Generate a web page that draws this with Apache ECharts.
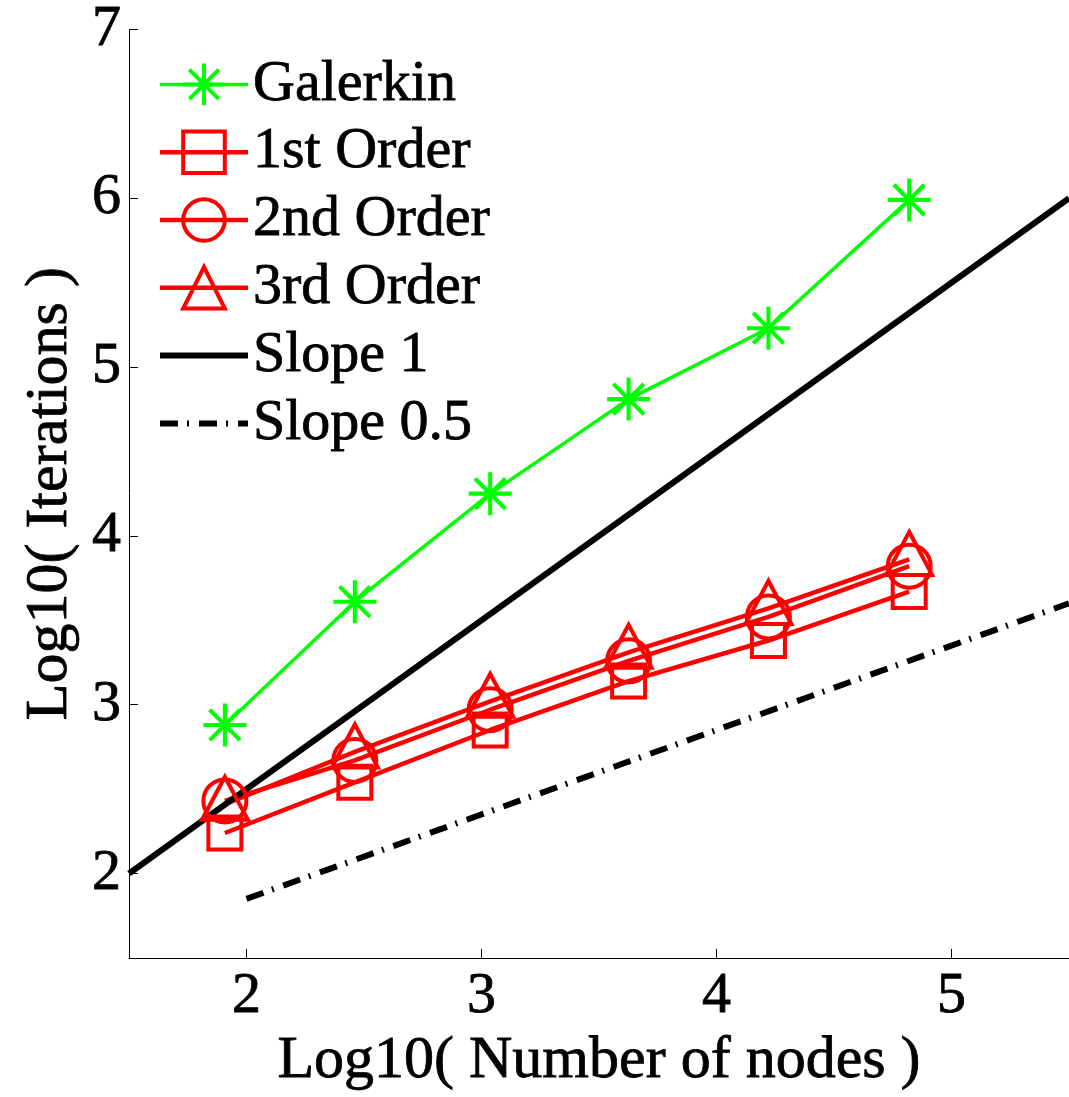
<!DOCTYPE html>
<html>
<head>
<meta charset="utf-8">
<script src="https://cdn.jsdelivr.net/npm/echarts@6/dist/echarts.min.js"></script>
<style>
  html, body { margin: 0; padding: 0; background: #fff; }
  #chart { width: 1069px; height: 1097px; }
</style>
</head>
<body>
<div id="chart"></div>
<script>
// log10 of node counts
const xNodes = [1.908, 2.461, 3.037, 3.626, 4.221, 4.820];
const galerkin = [2.88, 3.61, 4.25, 4.81, 5.23, 5.99];
const order1 = [2.24, 2.54, 2.85, 3.14, 3.38, 3.67];
const order2 = [2.43, 2.67, 2.97, 3.26, 3.52, 3.82];
const order3 = [2.41, 2.72, 3.02, 3.31, 3.57, 3.86];
// reference slope lines
const slope1X = [1.5, 5.5];
const slope1Y = [2, 6];
const slopeHalfX = [2, 5.5];
const slopeHalfY = [1.85, 3.6];
const xTicks = [2, 3, 4, 5];
const yTicks = [2, 3, 4, 5, 6, 7];

const font = 'Liberation Serif';
// slightly heavier text, like the matlab export
const txt = (size) => ({ fontFamily: font, fontSize: size, color: '#000', textBorderColor: '#000', textBorderWidth: 0.8 });

// asterisk marker (4 bars), built as one path with same winding for every bar
function starPath() {
  let t = 0.095, s = '';
  [0, 45, 90, 135].forEach(a => {
    let r = a * Math.PI / 180;
    let dx = Math.cos(r), dy = Math.sin(r);
    let nx = -dy * t, ny = dx * t;
    let p = [[-dx - nx, -dy - ny], [dx - nx, dy - ny], [dx + nx, dy + ny], [-dx + nx, -dy + ny]];
    s += 'M' + p.map(q => (q[0] * 50 + 50).toFixed(2) + ' ' + (q[1] * 50 + 50).toFixed(2)).join('L') + 'Z';
  });
  return 'path://' + s;
}

function pts(xs, ys) {
  return xs.map((x, i) => [x, ys[i]]);
}

const hollow = (c) => ({ color: 'rgba(255,0,0,0)', borderColor: c, borderWidth: 4 });

let chart = echarts.init(document.getElementById('chart'));
let option = {
  animation: false,
  backgroundColor: '#fff',
  textStyle: { fontFamily: font, color: '#000' },
  grid: { left: 129, right: 0, top: 29, bottom: 132 },
  legend: {
    orient: 'vertical',
    left: 152,
    top: 50,
    itemWidth: 88,
    itemHeight: 52,
    itemGap: 9,
    lineStyle: { width: 'inherit' },
    itemStyle: { borderWidth: 'inherit' },
    textStyle: Object.assign(txt(58), { lineHeight: 58 }),
    data: ['Galerkin', '1st Order', '2nd Order', '3rd Order', 'Slope 1', 'Slope 0.5']
  },
  xAxis: {
    type: 'value',
    min: 1.5,
    max: 5.5,
    name: 'Log10( Number of nodes )',
    nameLocation: 'middle',
    nameGap: 64,
    nameTextStyle: txt(60),
    axisLine: { show: true, onZero: false, lineStyle: { color: '#000', width: 1 } },
    axisTick: { show: true, inside: true, length: 9, customValues: xTicks, lineStyle: { color: '#000' } },
    axisLabel: Object.assign({ customValues: xTicks, margin: 10 }, txt(58)),
    splitLine: { show: false }
  },
  yAxis: {
    type: 'value',
    min: 1.5,
    max: 7,
    name: 'Log10( Iterations )',
    nameLocation: 'middle',
    nameGap: 46,
    nameTextStyle: txt(60),
    axisLine: { show: true, onZero: false, lineStyle: { color: '#000', width: 1 } },
    axisTick: { show: true, inside: true, length: 9, customValues: yTicks, lineStyle: { color: '#000' } },
    axisLabel: Object.assign({ customValues: yTicks, margin: 8 }, txt(58)),
    splitLine: { show: false }
  },
  series: [
    {
      name: 'Galerkin', type: 'line', data: pts(xNodes, galerkin),
      symbol: starPath(), symbolSize: 43,
      lineStyle: { color: '#00ff00', width: 3.5 },
      itemStyle: { color: '#00ff00' }
    },
    {
      name: '1st Order', type: 'line', data: pts(xNodes, order1),
      symbol: 'rect', symbolSize: 33,
      lineStyle: { color: '#ff0000', width: 4.5 },
      itemStyle: hollow('#ff0000')
    },
    {
      name: '2nd Order', type: 'line', data: pts(xNodes, order2),
      symbol: 'circle', symbolSize: 43,
      lineStyle: { color: '#ff0000', width: 4.5 },
      itemStyle: hollow('#ff0000')
    },
    {
      name: '3rd Order', type: 'line', data: pts(xNodes, order3),
      symbol: 'triangle', symbolSize: [46, 43], symbolOffset: [0, -6],
      lineStyle: { color: '#ff0000', width: 4.5 },
      itemStyle: hollow('#ff0000')
    },
    {
      name: 'Slope 1', type: 'line', data: pts(slope1X, slope1Y),
      symbol: 'none',
      lineStyle: { color: '#000', width: 6 },
      itemStyle: { color: 'rgba(0,0,0,0)' }
    },
    {
      name: 'Slope 0.5', type: 'line', data: pts(slopeHalfX, slopeHalfY),
      symbol: 'none',
      lineStyle: { color: '#000', width: 6, type: [18, 9, 2, 10] },
      itemStyle: { color: 'rgba(0,0,0,0)' }
    }
  ]
};
chart.setOption(option);
</script>
</body>
</html>
